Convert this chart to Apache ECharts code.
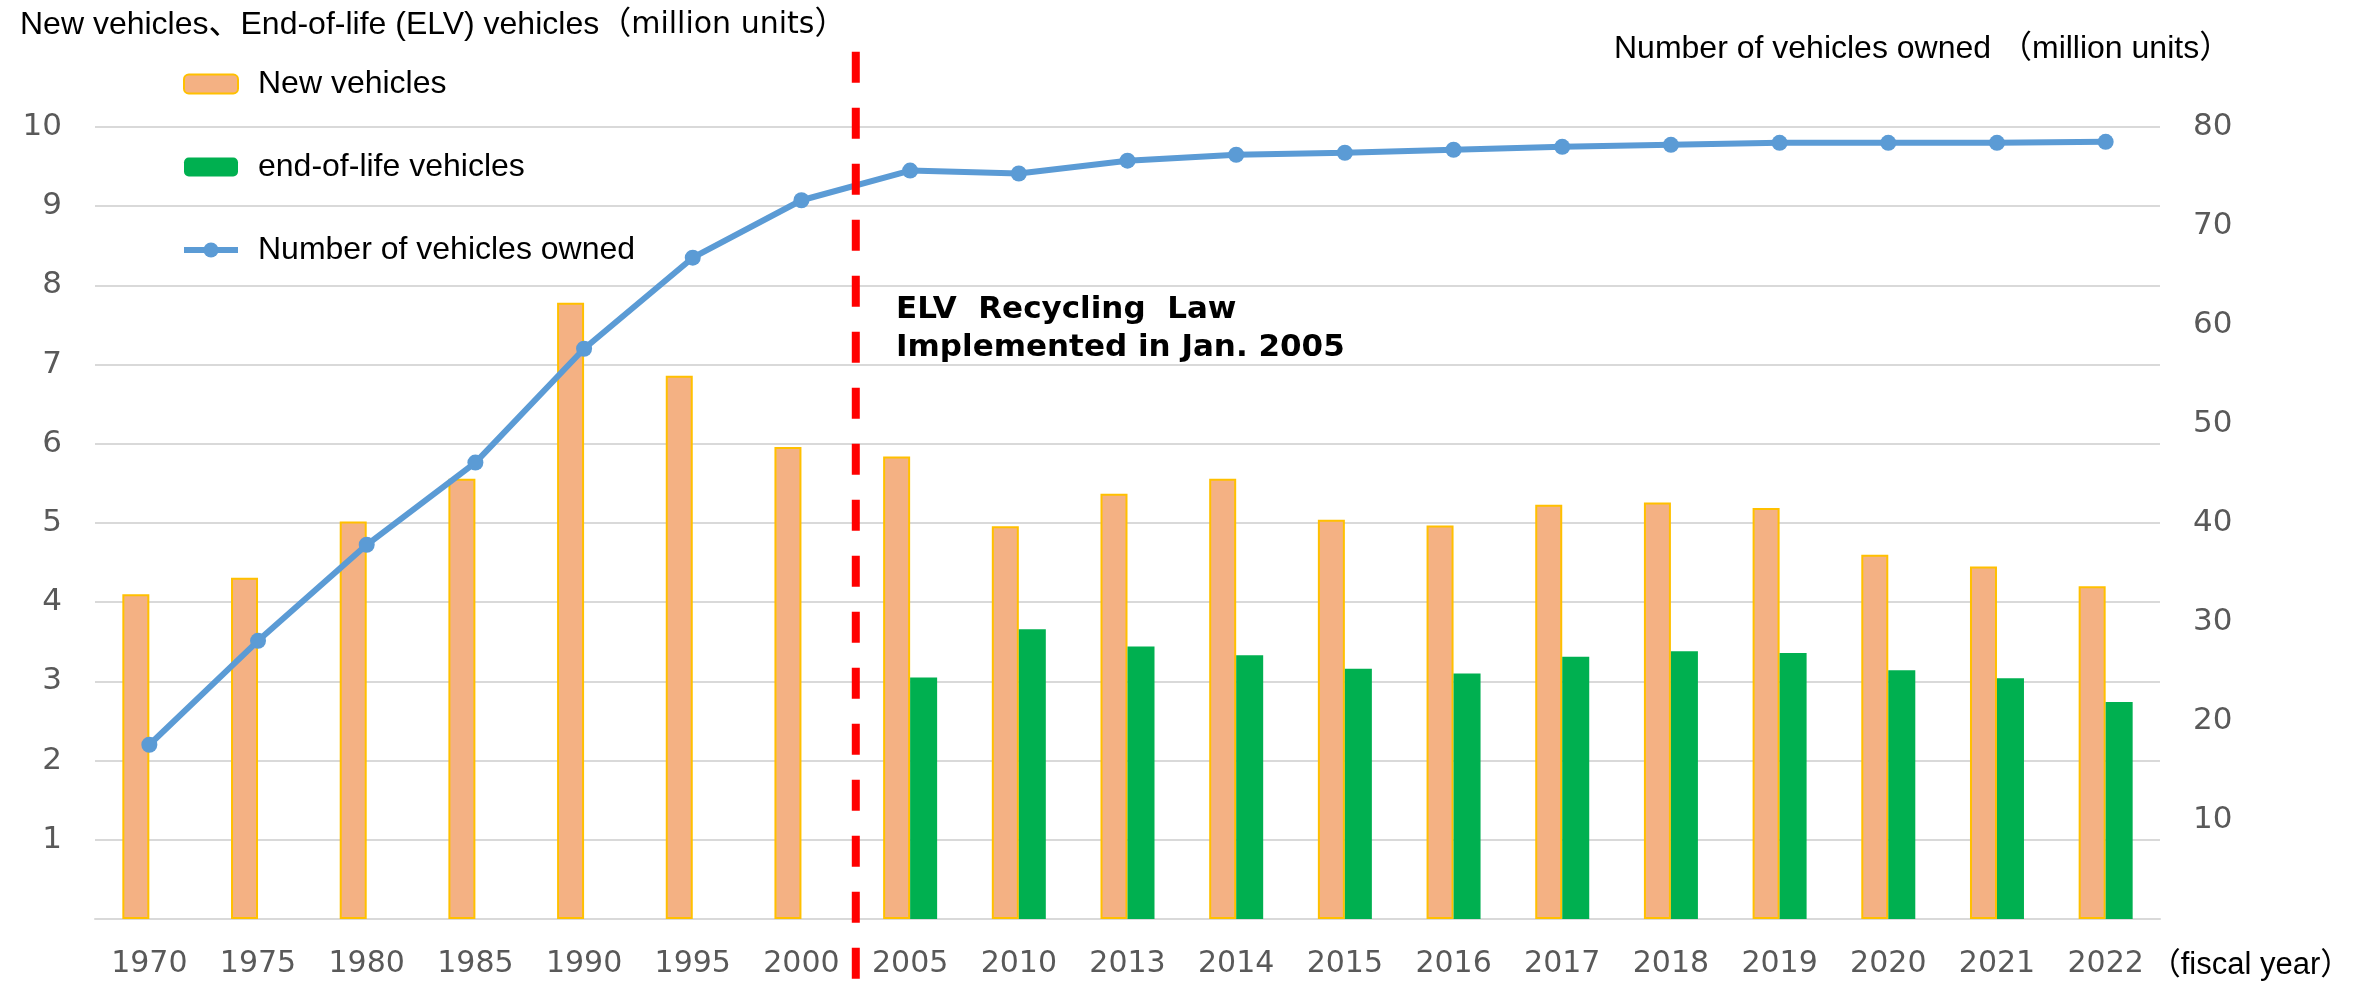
<!DOCTYPE html>
<html>
<head>
<meta charset="utf-8">
<script src="https://cdn.jsdelivr.net/npm/echarts@6/dist/echarts.min.js"></script>
<style>
html,body{margin:0;padding:0;background:#fff;}
#c{width:2369px;height:994px;}
</style>
</head>
<body>
<div id="c"></div>
<script>
// ---- data ----
const years = ['1970','1975','1980','1985','1990','1995','2000','2005','2010','2013','2014','2015','2016','2017','2018','2019','2020','2021','2022'];
const newVehicles = [4.10, 4.31, 5.02, 5.56, 7.78, 6.86, 5.96, 5.84, 4.96, 5.37, 5.56, 5.04, 4.97, 5.23, 5.26, 5.19, 4.60, 4.45, 4.20];
const elvVehicles = [null, null, null, null, null, null, null, 3.05, 3.66, 3.44, 3.33, 3.16, 3.10, 3.31, 3.38, 3.36, 3.14, 3.04, 2.74];
const vehiclesOwned = [17.6, 28.1, 37.8, 46.1, 57.6, 66.8, 72.6, 75.6, 75.3, 76.6, 77.2, 77.4, 77.7, 78.0, 78.2, 78.4, 78.4, 78.4, 78.5];
const leftTicks = { min: 0, max: 10, interval: 1 };
const rightTicks = { min: 0, max: 80, interval: 10 };
const lawYear = '2005';
const lawLineSpan = [10.95, -0.76];   // vertical extent of the law marker, in left-axis units

const lawX = years.indexOf(lawYear) - 0.5;

const chart = echarts.init(document.getElementById('c'), null, { renderer: 'canvas' });
const axisFont = 'DejaVu Sans';
const textFont = '"Liberation Sans", Arial, "Noto Sans CJK JP", sans-serif';

chart.setOption({
  animation: false,
  backgroundColor: '#ffffff',
  grid: { left: 95, right: 209, top: 127, bottom: 75, containLabel: false },
  legend: {
    data: ['New vehicles', 'end-of-life vehicles', 'Number of vehicles owned'],
    orient: 'vertical',
    left: 181,
    top: 68,
    padding: 0,
    itemWidth: 54,
    itemHeight: 19,
    itemGap: 51,
    lineStyle: { width: 6 },
    textStyle: { fontSize: 32, fontFamily: textFont, color: '#000', padding: [0, 0, 0, 15] }
  },
  xAxis: [
    {
      type: 'category',
      data: years,
      axisLine: { lineStyle: { color: '#D9D9D9', width: 2 } },
      axisTick: { show: false },
      axisLabel: { interval: 0, fontSize: 30, fontFamily: axisFont, color: '#595959', margin: 30 },
      name: '（fiscal year）',
      nameLocation: 'end',
      nameGap: 0,
      nameTextStyle: { fontSize: 31, fontFamily: textFont, color: '#000', verticalAlign: 'top', align: 'left', padding: [31, 0, 0, -12] }
    },
    { type: 'value', min: -0.5, max: years.length - 0.5, show: false }
  ],
  yAxis: [
    {
      type: 'value',
      min: leftTicks.min, max: leftTicks.max, interval: leftTicks.interval,
      axisLine: { show: false },
      axisTick: { show: false },
      axisLabel: { fontSize: 31, fontFamily: axisFont, color: '#595959', margin: 33, showMinLabel: false },
      splitLine: { lineStyle: { color: '#D9D9D9', width: 2 } }
    },
    {
      type: 'value',
      min: rightTicks.min, max: rightTicks.max, interval: rightTicks.interval,
      position: 'right',
      axisLine: { show: false },
      axisTick: { show: false },
      axisLabel: { fontSize: 31, fontFamily: axisFont, color: '#595959', margin: 33, showMinLabel: false },
      splitLine: { show: false }
    }
  ],
  series: [
    {
      name: 'New vehicles',
      type: 'bar',
      data: newVehicles,
      barWidth: 27,
      barGap: '0%',
      itemStyle: { color: '#F4B183', borderColor: '#FFC000', borderWidth: 2 }
    },
    {
      name: 'end-of-life vehicles',
      type: 'bar',
      data: elvVehicles,
      barWidth: 27,
      barGap: '0%',
      itemStyle: { color: '#00B050' }
    },
    {
      name: 'Number of vehicles owned',
      type: 'line',
      yAxisIndex: 1,
      data: vehiclesOwned,
      symbol: 'circle',
      symbolSize: 16,
      lineStyle: { color: '#5B9BD5', width: 6 },
      itemStyle: { color: '#5B9BD5' },
      z: 3
    },
    {
      name: 'law',
      type: 'line',
      xAxisIndex: 1,
      yAxisIndex: 0,
      data: [[lawX, lawLineSpan[0]], [lawX, lawLineSpan[1]]],
      symbol: 'none',
      clip: false,
      silent: true,
      lineStyle: { color: '#FF0000', width: 8, type: [31, 25] },
      z: 5
    }
  ],
  graphic: [
    {
      type: 'text', left: 20, top: 9,
      style: {
        text: '{a|New vehicles、End-of-life (ELV) vehicles（}{b|million units}{a|）}',
        rich: {
          a: { fontSize: 32, fontFamily: textFont, color: '#000', lineHeight: 32 },
          b: { fontSize: 30, fontFamily: 'DejaVu Sans', color: '#000', lineHeight: 32 }
        }
      }
    },
    {
      type: 'text', left: 1614, top: 33,
      style: { text: 'Number of vehicles owned （million units）', fontSize: 32, fontFamily: textFont, fill: '#000' }
    },
    {
      type: 'text', left: 896, top: 291,
      style: { text: 'ELV  Recycling  Law\nImplemented in Jan. 2005', fontSize: 31, fontWeight: 'bold', lineHeight: 38, fontFamily: 'DejaVu Sans', fill: '#000' }
    }
  ]
});
</script>
</body>
</html>
